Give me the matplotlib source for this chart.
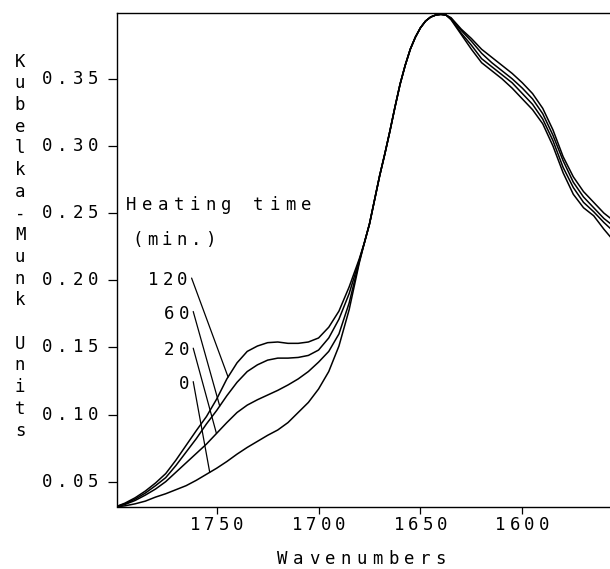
import numpy as np
import matplotlib
matplotlib.use("Agg")
import matplotlib.pyplot as plt

# Spectres Kubelka-Munk (bande carbonyle) pour différents temps de chauffage
# côté gauche : une valeur par courbe, tous les 5 cm-1 (1800 ... 1680)
left_w = list(range(1800, 1675, -5))
left_120 = [0.031, 0.034, 0.038, 0.043, 0.049, 0.056, 0.066, 0.077, 0.088, 0.0985,
            0.1115, 0.1265, 0.1385, 0.147, 0.151, 0.1535, 0.154, 0.153, 0.153, 0.154,
            0.157, 0.165, 0.177, 0.195, 0.216]
left_60 = [0.031, 0.0335, 0.037, 0.0415, 0.047, 0.053, 0.062, 0.072, 0.082, 0.093,
           0.103, 0.114, 0.124, 0.132, 0.137, 0.1405, 0.142, 0.142, 0.1425, 0.144,
           0.148, 0.157, 0.171, 0.190, 0.215]
left_20 = [0.031, 0.033, 0.036, 0.040, 0.0445, 0.050, 0.057, 0.064, 0.071, 0.078,
           0.086, 0.094, 0.1015, 0.107, 0.111, 0.1145, 0.118, 0.122, 0.1265, 0.132,
           0.139, 0.147, 0.160, 0.183, 0.214]
left_0 = [0.031, 0.032, 0.0335, 0.0355, 0.0385, 0.041, 0.044, 0.047, 0.051, 0.0555,
          0.060, 0.065, 0.0705, 0.0755, 0.080, 0.0845, 0.0885, 0.094, 0.1015, 0.109,
          0.119, 0.132, 0.151, 0.178, 0.213]

# montée et sommet communs à toutes les courbes
peak_w = [1677.5, 1675, 1672.5, 1670, 1667.5, 1665, 1662.5, 1660, 1657.5, 1655,
          1652.5, 1650, 1647.5, 1645, 1642.5, 1640, 1637.5]
peak_v = [0.228, 0.242, 0.260, 0.278, 0.294, 0.311, 0.329, 0.346, 0.360, 0.372,
          0.381, 0.388, 0.393, 0.396, 0.3975, 0.398, 0.3975]

# côté droit : 1635 ... 1555
right_w = list(range(1635, 1550, -5))
right_120 = [0.3955, 0.387, 0.380, 0.372, 0.366, 0.360, 0.354, 0.347, 0.339, 0.328,
             0.312, 0.292, 0.277, 0.266, 0.258, 0.250, 0.244]
right_60 = [0.395, 0.386, 0.378, 0.369, 0.362, 0.356, 0.350, 0.343, 0.335, 0.324,
            0.308, 0.289, 0.273, 0.262, 0.254, 0.246, 0.240]
right_20 = [0.3945, 0.384, 0.375, 0.365, 0.359, 0.353, 0.347, 0.339, 0.331, 0.320,
            0.304, 0.284, 0.269, 0.258, 0.251, 0.243, 0.236]
right_0 = [0.394, 0.383, 0.372, 0.362, 0.356, 0.350, 0.343, 0.335, 0.327, 0.3165,
           0.300, 0.280, 0.264, 0.254, 0.248, 0.238, 0.229]

heating_labels = ["120", "60", "20", "0"]
lefts = [left_120, left_60, left_20, left_0]
rights = [right_120, right_60, right_20, right_0]
# début des traits de renvoi (à côté des étiquettes) et point d'arrivée sur la courbe
label_w = [1762.3, 1761.5, 1761.5, 1761.5]
label_v = [0.2016, 0.1767, 0.1494, 0.1245]
pointer_w = [1744.4, 1748.5, 1750.1, 1753.4]

x_ticks = [1750, 1700, 1650, 1600]
y_ticks = [0.05, 0.10, 0.15, 0.20, 0.25, 0.30, 0.35]

FONT = "DejaVu Sans Mono"
FS = 12.5


def spaced(ax, s, xy, xycoords, pitch, align="left", dx=0, dy=0):
    # texte de traceur : un caractère par case, espacement fixe
    n = len(s)
    if align == "left":
        start = 0
    elif align == "center":
        start = -(n - 1) / 2 * pitch
    else:
        start = -(n - 1) * pitch
    for i, ch in enumerate(s):
        ax.annotate(ch, xy=xy, xycoords=xycoords,
                    xytext=(dx + start + i * pitch, dy), textcoords="offset pixels",
                    ha="center", va="center", family=FONT, fontsize=FS,
                    annotation_clip=False)


fig = plt.figure(figsize=(6.1, 5.69), dpi=100)
ax = fig.add_axes([117 / 610, 62.5 / 569, 493 / 610, 493.5 / 569])

wavenumbers = left_w + peak_w + right_w
curves = []
for lv, rv in zip(lefts, rights):
    vals = lv + peak_v + rv
    curves.append(vals)
    ax.plot(wavenumbers, vals, color="black", lw=1.1)

ax.set_xlim(1798.9, 1557)
ax.set_ylim(0.0315, 0.399)

ax.spines["right"].set_visible(False)
for sp in ("left", "bottom", "top"):
    ax.spines[sp].set_linewidth(1.0)

ax.set_xticks(x_ticks)
ax.set_yticks(y_ticks)
ax.set_xticklabels([])
ax.set_yticklabels([])
ax.tick_params(axis="y", direction="out", length=6.5, width=0.9)
ax.tick_params(axis="x", direction="out", length=5, width=0.9)

# étiquettes des graduations
for t in x_ticks:
    spaced(ax, str(t), (t, 0), ("data", "axes fraction"), 14.5, "center", dy=-19)
for t in y_ticks:
    spaced(ax, f"{t:.2f}", (0, t), ("axes fraction", "data"), 15.5, "right", dx=-23.5)

# titres des axes
spaced(ax, "Wavenumbers", (0.496, 0), "axes fraction", 15.8, "center", dy=-52)
for i, ch in enumerate("Kubelka-Munk Units"):
    fig.text(20 / 610, 1 - (61.7 + i * 21.7) / 569, ch, ha="center", va="center",
             family=FONT, fontsize=FS)

# légende : temps de chauffage
spaced(ax, "Heating time", (1791.9, 0.2562), "data", 15.9, "left")
spaced(ax, "(min.)", (1789.0, 0.2300), "data", 14.8, "left")
w_rev = wavenumbers[::-1]
for lab, vals, lw_, lv_, pw in zip(heating_labels, curves, label_w, label_v, pointer_w):
    pv = np.interp(pw, w_rev, vals[::-1])
    ax.annotate("", xy=(pw, pv), xytext=(lw_, lv_),
                arrowprops=dict(arrowstyle="-", lw=0.9, color="black",
                                shrinkA=0, shrinkB=0))
    spaced(ax, lab, (lw_, lv_), "data", 14.5, "right", dx=-9.5, dy=-2)

fig.savefig("out.png", dpi=100)
